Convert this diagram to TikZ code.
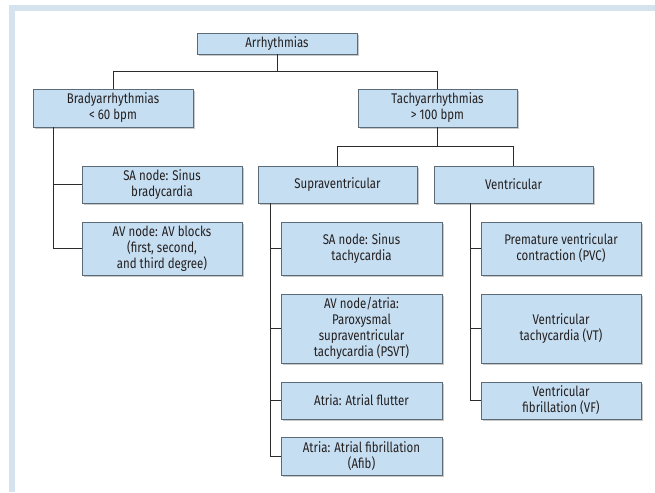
\documentclass[tikz,border=0pt]{standalone}
\usepackage{fontspec}
\setmainfont{Fira Sans}[FakeStretch=0.82]
\usetikzlibrary{shadows,calc}
\definecolor{boxfill}{HTML}{C6DEF1}
\definecolor{boxdraw}{HTML}{5C6B78}
\definecolor{framecol}{HTML}{D5E3EF}
\definecolor{txt}{HTML}{231F20}
\definecolor{linecol}{HTML}{2B2B2B}
\begin{document}
\begin{tikzpicture}[x=1pt,y=-1pt,
  box/.style={draw=boxdraw, fill=boxfill, line width=0.8pt, align=center,
    inner sep=0pt, text=txt, font=\fontsize{14}{16}\selectfont,
    drop shadow={shadow xshift=1.5pt, shadow yshift=-2pt, opacity=0.35, fill=black!60}},
  conn/.style={draw=linecol, line width=0.9pt}]
\useasboundingbox (0,0) rectangle (655,492);
\fill[framecol] (9,5) rectangle (655,492);
\fill[white] (15,11) rectangle (655,492);
% top
\node[box, minimum width=160pt, minimum height=21pt] (arr) at (277,43.5) {Arrhythmias};
\node[box, minimum width=160pt, minimum height=38pt] (brady) at (113,108) {Bradyarrhythmias\\ {<} 60 bpm};
\node[box, minimum width=159pt, minimum height=38pt] (tachy) at (437.5,108) {Tachyarrhythmias\\ {>} 100 bpm};
% brady children
\node[box, minimum width=160pt, minimum height=37pt] (sab) at (162,184.5) {SA node: Sinus\\ bradycardia};
\node[box, minimum width=160pt, minimum height=53pt] (avb) at (162,248.5) {AV node: AV blocks\\ (first, second,\\ and third degree)};
% tachy children
\node[box, minimum width=159pt, minimum height=37pt] (supra) at (337.5,184.5) {Supraventricular};
\node[box, minimum width=159pt, minimum height=37pt] (vent) at (513.5,184.5) {Ventricular};
% supra children
\node[box, minimum width=161pt, minimum height=53pt] (sat) at (361.5,248.5) {SA node: Sinus\\ tachycardia};
\node[box, minimum width=161pt, minimum height=69pt] (avn) at (361.5,328.5) {AV node/atria:\\ Paroxysmal\\ supraventricular\\ tachycardia (PSVT)};
\node[box, minimum width=161pt, minimum height=37pt] (flut) at (361.5,400.5) {Atria: Atrial flutter};
\node[box, minimum width=161pt, minimum height=38pt] (afib) at (361.5,456) {Atria: Atrial fibrillation\\ (Afib)};
% vent children
\node[box, minimum width=160pt, minimum height=53pt] (pvc) at (561,248.5) {Premature ventricular\\ contraction (PVC)};
\node[box, minimum width=160pt, minimum height=69pt] (vt) at (561,328.5) {Ventricular\\ tachycardia (VT)};
\node[box, minimum width=160pt, minimum height=37pt] (vf) at (561,400.5) {Ventricular\\ fibrillation (VF)};
% connectors
\coordinate (arrmid) at ($(arr.south)+(0,17)$);
\draw[conn] (arr.south) -- (arrmid);
\draw[conn] (arrmid) -| (brady.north);
\draw[conn] (arrmid) -| (tachy.north);
\coordinate (tachymid) at ($(tachy.south)+(0,19)$);
\draw[conn] (tachy.south) -- (tachymid);
\draw[conn] (tachymid) -| (supra.north);
\draw[conn] (tachymid) -| (vent.north);
\coordinate (bb) at ($(brady.south west)+(21,0)$);
\draw[conn] (bb) |- (sab.west);
\draw[conn] (bb) |- (avb.west);
\coordinate (sb) at ($(supra.south west)+(13,0)$);
\foreach \n in {sat,avn,flut,afib} \draw[conn] (sb) |- (\n.west);
\coordinate (vb) at ($(vent.south west)+(37,0)$);
\foreach \n in {pvc,vt,vf} \draw[conn] (vb) |- (\n.west);
\end{tikzpicture}
\end{document}
